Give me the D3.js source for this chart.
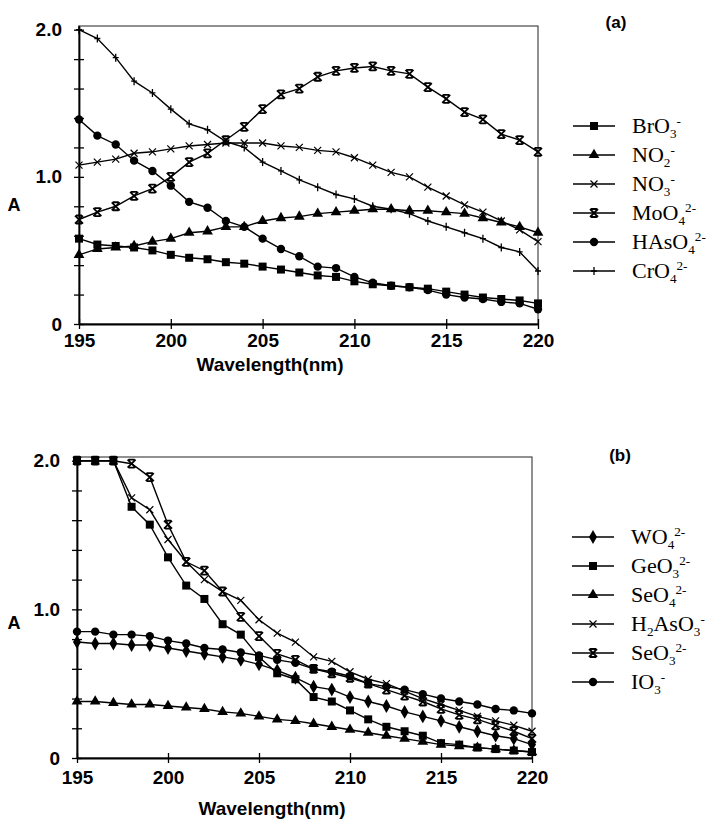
<!DOCTYPE html>
<html>
<head>
<meta charset="utf-8">
<script src="https://cdn.jsdelivr.net/npm/d3@7"></script>
<style>
body { margin: 0; background: #fff; }
</style>
</head>
<body>
<div id="canvas" style="width:713px;height:826px"></div>
<script>
// wavelengths (nm), one point per nm
var wavelengths = [195,196,197,198,199,200,201,202,203,204,205,206,207,208,209,210,211,212,213,214,215,216,217,218,219,220];

// panel (a)
var bro3  = [0.58,0.54,0.53,0.52,0.50,0.47,0.45,0.44,0.42,0.41,0.39,0.37,0.35,0.33,0.32,0.29,0.27,0.26,0.25,0.24,0.22,0.20,0.18,0.17,0.16,0.14];
var no2   = [0.47,0.51,0.52,0.53,0.56,0.58,0.62,0.63,0.66,0.66,0.70,0.72,0.73,0.75,0.76,0.77,0.78,0.78,0.77,0.77,0.76,0.75,0.72,0.69,0.66,0.62];
var no3   = [1.08,1.10,1.12,1.16,1.17,1.19,1.21,1.22,1.23,1.23,1.23,1.21,1.20,1.18,1.17,1.13,1.08,1.03,1.00,0.93,0.87,0.81,0.76,0.70,0.64,0.56];
var moo4  = [0.71,0.76,0.80,0.87,0.92,1.00,1.10,1.16,1.25,1.34,1.46,1.56,1.60,1.68,1.72,1.74,1.75,1.72,1.70,1.61,1.53,1.44,1.39,1.29,1.25,1.17];
var hasO4 = [1.39,1.28,1.22,1.11,1.04,0.94,0.83,0.79,0.70,0.66,0.58,0.51,0.46,0.39,0.38,0.32,0.28,0.26,0.25,0.23,0.20,0.18,0.17,0.15,0.14,0.10];
var cro4  = [2.00,1.94,1.81,1.65,1.57,1.46,1.36,1.32,1.24,1.20,1.10,1.04,0.98,0.93,0.88,0.85,0.80,0.78,0.75,0.70,0.66,0.62,0.58,0.52,0.49,0.36];

// panel (b)
var wo4    = [0.78,0.77,0.77,0.76,0.76,0.74,0.72,0.70,0.68,0.66,0.63,0.59,0.54,0.48,0.46,0.41,0.38,0.35,0.31,0.28,0.25,0.21,0.18,0.15,0.13,0.09];
var geo3   = [2.00,2.00,2.00,1.69,1.57,1.35,1.16,1.07,0.90,0.83,0.68,0.57,0.53,0.41,0.38,0.32,0.26,0.21,0.18,0.15,0.10,0.09,0.07,0.06,0.05,0.04];
var seo4   = [0.38,0.38,0.37,0.36,0.36,0.35,0.34,0.33,0.31,0.30,0.28,0.26,0.25,0.23,0.21,0.19,0.17,0.15,0.13,0.11,0.09,0.08,0.07,0.06,0.05,0.04];
var h2aso3 = [2.00,2.00,2.00,1.75,1.67,1.47,1.32,1.20,1.12,1.06,0.93,0.84,0.78,0.68,0.65,0.58,0.53,0.50,0.45,0.40,0.36,0.32,0.28,0.25,0.22,0.18];
var seo3   = [2.00,2.00,2.00,1.98,1.89,1.57,1.32,1.26,1.12,0.95,0.82,0.70,0.66,0.60,0.57,0.54,0.50,0.46,0.42,0.38,0.33,0.29,0.26,0.22,0.18,0.13];
var io3    = [0.85,0.85,0.83,0.83,0.82,0.79,0.77,0.74,0.73,0.71,0.69,0.66,0.64,0.60,0.58,0.55,0.50,0.48,0.46,0.43,0.40,0.38,0.36,0.33,0.32,0.30];

// legend labels: pieces of [text, 'sub'|'sup'|'']
var labelsA = [
  [['BrO',''],['3','sub'],['-','sup']],
  [['NO',''],['2','sub'],['-','sup']],
  [['NO',''],['3','sub'],['-','sup']],
  [['MoO',''],['4','sub'],['2-','sup']],
  [['HAsO',''],['4','sub'],['2-','sup']],
  [['CrO',''],['4','sub'],['2-','sup']]
];
var labelsB = [
  [['WO',''],['4','sub'],['2-','sup']],
  [['GeO',''],['3','sub'],['2-','sup']],
  [['SeO',''],['4','sub'],['2-','sup']],
  [['H',''],['2','sub'],['AsO',''],['3','sub'],['-','sup']],
  [['SeO',''],['3','sub'],['2-','sup']],
  [['IO',''],['3','sub'],['-','sup']]
];
var markersA = ['square','triangle','times','bowtie','circle','plus'];
var markersB = ['diamond','square','triangle','times','bowtie','circle'];

var xTicks = [195,200,205,210,215,220];
var yTicks = [0,0.2,0.4,0.6,0.8,1.0,1.2,1.4,1.6,1.8,2.0];
var yLabelled = [0,1,2];
var yLabelText = ['0','1.0','2.0'];

var svg = d3.select('#canvas')
  .append('svg')
  .attr('width', 713)
  .attr('height', 826);

function marker(g, type, cx, cy) {
  var m;
  if (type == 'square') {
    m = g.append('path').attr('d', d3.symbol(d3.symbolSquare, 64)()).attr('fill', '#000');
  } else if (type == 'triangle') {
    m = g.append('path').attr('d', d3.symbol(d3.symbolTriangle, 50)()).attr('fill', '#000');
  } else if (type == 'circle') {
    m = g.append('path').attr('d', d3.symbol(d3.symbolCircle, 55)()).attr('fill', '#000');
  } else if (type == 'diamond') {
    m = g.append('path').attr('d', d3.symbol(d3.symbolDiamond, 55)()).attr('fill', '#000');
  } else if (type == 'times') {
    m = g.append('path').attr('d', 'M-3.5,-3.5L3.5,3.5M3.5,-3.5L-3.5,3.5')
      .attr('fill', 'none').attr('stroke', '#000').attr('stroke-width', 1.2);
  } else if (type == 'bowtie') {
    m = g.append('path').attr('d', 'M-4,-4L4,4M4,-4L-4,4M-3,-4L3,-4M-3,4L3,4')
      .attr('fill', 'none').attr('stroke', '#000').attr('stroke-width', 1.8);
  } else {
    m = g.append('path').attr('d', 'M0,-4L0,4M-3,0L3,0')
      .attr('fill', 'none').attr('stroke', '#000').attr('stroke-width', 1.3);
  }
  m.attr('transform', 'translate(' + cx + ',' + cy + ')');
}

function richText(g, parts, x, y, size) {
  var t = g.append('text')
    .attr('x', x).attr('y', y)
    .style('font-family', '"Liberation Serif", "Times New Roman", serif')
    .style('font-size', size + 'px');
  var cur = 0;
  parts.forEach(function(p) {
    var off = p[1] == 'sub' ? size * 0.24 : (p[1] == 'sup' ? -size * 0.36 : 0);
    t.append('tspan')
      .attr('dy', off - cur)
      .style('font-size', (p[1] ? size * 0.6 : size) + 'px')
      .text(p[0]);
    cur = off;
  });
}

function panel(opt) {
  var x = d3.scaleLinear().domain([195, 220]).range([opt.left, opt.right]);
  var y = d3.scaleLinear().domain([0, 2.025]).range([opt.bottom, opt.top]);
  var g = svg.append('g');

  // thin frame (top/right)
  g.append('rect')
    .attr('x', opt.left).attr('y', opt.top)
    .attr('width', opt.right - opt.left).attr('height', opt.bottom - opt.top)
    .attr('fill', 'none').attr('stroke', '#222').attr('stroke-width', 1);

  var line = d3.line()
    .x(function(d, i) { return x(wavelengths[i]); })
    .y(function(d) { return y(d); });

  opt.series.forEach(function(s, k) {
    g.append('path')
      .datum(s)
      .attr('d', line)
      .attr('fill', 'none')
      .attr('stroke', '#000')
      .attr('stroke-width', 1.4);
    s.forEach(function(v, i) {
      marker(g, opt.markers[k], x(wavelengths[i]), y(v));
    });
  });

  var yAxis = d3.axisLeft(y)
    .tickValues(yTicks)
    .tickSize(5).tickSizeOuter(0).tickPadding(12)
    .tickFormat(function(d) {
      var j = yLabelled.indexOf(Math.round(d * 10) / 10);
      return j >= 0 ? yLabelText[j] : '';
    });
  var ya = g.append('g')
    .attr('transform', 'translate(' + opt.left + ',0)')
    .call(yAxis);
  ya.selectAll('.tick line').attr('x1', 5).attr('stroke-width', 1.3);

  var xAxis = d3.axisBottom(x)
    .tickValues(xTicks)
    .tickSize(5).tickSizeOuter(0).tickPadding(opt.xPad);
  var xa = g.append('g')
    .attr('transform', 'translate(0,' + opt.bottom + ')')
    .call(xAxis);
  xa.selectAll('.tick line').attr('y1', -5).attr('stroke-width', 1.3);

  g.selectAll('.domain').attr('stroke-width', 1.8);
  g.selectAll('.tick text')
    .style('font-family', '"Liberation Sans", Arial, sans-serif')
    .style('font-weight', 'bold')
    .style('font-size', '19px')
    .attr('fill', '#000');

  g.append('text')
    .attr('x', 14).attr('y', opt.aY)
    .attr('text-anchor', 'middle').attr('dy', '0.35em')
    .style('font-family', '"Liberation Sans", Arial, sans-serif')
    .style('font-weight', 'bold').style('font-size', '18px')
    .text('A');

  g.append('text')
    .attr('x', opt.titleX).attr('y', opt.titleY)
    .attr('text-anchor', 'middle').attr('dy', '0.35em')
    .style('font-family', '"Liberation Sans", Arial, sans-serif')
    .style('font-weight', 'bold').style('font-size', '19px')
    .text('Wavelength(nm)');

  g.append('text')
    .attr('x', opt.tagX).attr('y', opt.tagY)
    .attr('text-anchor', 'middle').attr('dy', '0.35em')
    .style('font-family', '"Liberation Sans", Arial, sans-serif')
    .style('font-weight', 'bold').style('font-size', '17px')
    .text(opt.tag);

  // legend
  opt.labels.forEach(function(lab, k) {
    var ly = opt.legY + k * 29;
    g.append('line')
      .attr('x1', opt.legX).attr('x2', opt.legX + 42)
      .attr('y1', ly).attr('y2', ly)
      .attr('stroke', '#000').attr('stroke-width', 1.4);
    marker(g, opt.markers[k], opt.legX + 21, ly);
    richText(g, lab, opt.legX + 59, ly + 7, 22);
  });
}

panel({
  left: 79, right: 538, top: 26, bottom: 324,
  series: [bro3, no2, no3, moo4, hasO4, cro4],
  markers: markersA, labels: labelsA,
  xPad: 5,
  aY: 205, titleX: 270, titleY: 364,
  tag: '(a)', tagX: 616, tagY: 22,
  legX: 573, legY: 126
});

panel({
  left: 77, right: 532, top: 457, bottom: 758,
  series: [wo4, geo3, seo4, h2aso3, seo3, io3],
  markers: markersB, labels: labelsB,
  xPad: 8,
  aY: 623, titleX: 272, titleY: 808,
  tag: '(b)', tagX: 620, tagY: 455,
  legX: 572, legY: 537
});
</script>
</body>
</html>
